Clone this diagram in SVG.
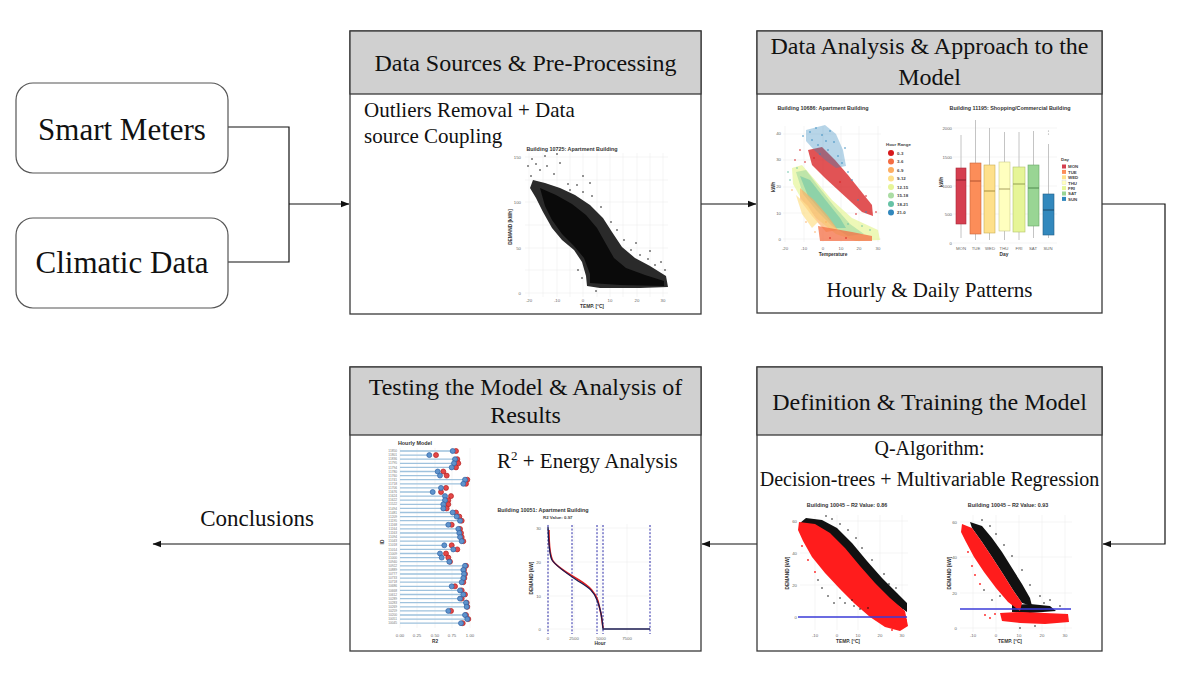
<svg xmlns="http://www.w3.org/2000/svg" width="1200" height="681" viewBox="0 0 1200 681">
<defs>
<marker id="ah" markerWidth="9" markerHeight="8" refX="8" refY="4" orient="auto" markerUnits="userSpaceOnUse"><path d="M0,0.8 L8.5,4 L0,7.2 Z" fill="#111"/></marker>
<style>
.box{fill:#fff;stroke:#3a3a3a;stroke-width:1.3}
.hdr{fill:#d0d0d0;stroke:#3a3a3a;stroke-width:1.3}
.rbox{fill:#fff;stroke:#555;stroke-width:1.2}
.t{font-family:"Liberation Serif","Times New Roman",serif;fill:#111}
.h{font-size:24px;text-anchor:middle}
.b{font-size:21px}
.conn{fill:none;stroke:#111;stroke-width:1.2}
.ax{font-family:"Liberation Sans",Arial,sans-serif;font-size:4.3px;fill:#666}
.axe{font-family:"Liberation Sans",Arial,sans-serif;font-size:4.3px;fill:#666;text-anchor:end}
.axm{font-family:"Liberation Sans",Arial,sans-serif;font-size:4.3px;fill:#666;text-anchor:middle}
.al{font-family:"Liberation Sans",Arial,sans-serif;font-size:4.8px;font-weight:bold;fill:#333;text-anchor:middle}
.ct{font-family:"Liberation Sans",Arial,sans-serif;font-size:5.4px;font-weight:bold;fill:#333;text-anchor:middle}
.lg{font-family:"Liberation Sans",Arial,sans-serif;font-size:4.4px;font-weight:bold;fill:#444}
.id{font-family:"Liberation Sans",Arial,sans-serif;font-size:3.2px;fill:#777;text-anchor:end}
.grid{stroke:#efefef;stroke-width:0.6;fill:none}
.ll{stroke:#9fc2dd;stroke-width:1.3;fill:none}
.bl{fill:#5f93cc;stroke:#2f64a6;stroke-width:0.7}
.rd{fill:#e34848;stroke:#b52020;stroke-width:0.7}
.dk{fill:#111}
.rdt{fill:#ff1c1c}
.wh{stroke:#b5b5b5;stroke-width:0.8}
</style>
</defs>
<rect width="1200" height="681" fill="#fff"/>

<g id="connectors">
<path class="conn" d="M228,127 H289 V262 H228"/>
<path class="conn" d="M289,204 H349" marker-end="url(#ah)"/>
<path class="conn" d="M701,204 H756" marker-end="url(#ah)"/>
<path class="conn" d="M1102,204 H1165 V544 H1103" marker-end="url(#ah)"/>
<path class="conn" d="M757,544 H702" marker-end="url(#ah)"/>
<path class="conn" d="M350,544 H153" marker-end="url(#ah)"/>
</g>

<g id="smart-meters">
<rect class="rbox" x="16" y="83" width="212" height="90" rx="17"/>
<text class="t" x="122" y="140" font-size="31" text-anchor="middle">Smart Meters</text>
</g>

<g id="climatic-data">
<rect class="rbox" x="16" y="218" width="212" height="90" rx="17"/>
<text class="t" x="122" y="273" font-size="31" text-anchor="middle">Climatic Data</text>
</g>

<g id="conclusions">
<text class="t" x="257" y="526" font-size="23" text-anchor="middle">Conclusions</text>
</g>

<g id="data-sources">
<rect class="box" x="350" y="31" width="351" height="283"/>
<rect class="hdr" x="350" y="31" width="351" height="63"/>
<text class="t h" x="525.5" y="71">Data Sources &amp; Pre-Processing</text>
<text class="t b" x="364" y="117">Outliers Removal + Data</text>
<text class="t b" x="364" y="143">source Coupling</text>
<g id="chart-10725">
<path class="grid" d="M529,153V297M543,153V297M557,153V297M570,153V297M583,153V297M597,153V297M610,153V297M623,153V297M637,153V297M650,153V297M663,153V297M525,157H668M525,180H668M525,202H668M525,225H668M525,248H668M525,270H668M525,293H668"/>
<text class="ct" x="572" y="151">Building 10725: Apartment Building</text>
<text class="axe" x="521" y="158.5">150</text>
<text class="axe" x="521" y="203.5">100</text>
<text class="axe" x="521" y="249.5">50</text>
<text class="axe" x="521" y="294.5">0</text>
<text class="axm" x="529" y="302">-20</text>
<text class="axm" x="557" y="302">-10</text>
<text class="axm" x="583" y="302">0</text>
<text class="axm" x="610" y="302">10</text>
<text class="axm" x="637" y="302">20</text>
<text class="axm" x="663" y="302">30</text>
<text class="al" x="592" y="308">TEMP. [°C]</text>
<text class="al" transform="translate(512,227) rotate(-90)">DEMAND [kWh]</text>
<polygon fill="#2a2a2a" points="533,180 545,183 560,188 575,195 590,205 603,218 612,232 622,247 635,258 650,266 666,276 668,287 640,288 600,288 587,286 586,276 582,262 574,250 562,240 552,228 543,212 536,198 530,188"/>
<polygon fill="#0a0a0a" points="540,188 556,195 572,204 586,215 597,228 606,244 614,258 626,268 645,275 664,281 664,286 620,285 590,283 590,274 584,258 574,246 562,234 552,220 545,206"/>
<g class="dk">
<circle cx="528" cy="166" r="0.8"/><circle cx="532" cy="159" r="0.8"/><circle cx="531" cy="176" r="0.8"/><circle cx="545" cy="156" r="0.8"/><circle cx="547" cy="166" r="0.8"/><circle cx="557" cy="154" r="0.8"/><circle cx="560" cy="163" r="0.8"/><circle cx="554" cy="174" r="0.8"/><circle cx="540" cy="170" r="0.8"/><circle cx="536" cy="164" r="0.8"/><circle cx="568" cy="184" r="0.8"/><circle cx="577" cy="185" r="0.8"/><circle cx="583" cy="192" r="0.8"/><circle cx="592" cy="196" r="0.8"/><circle cx="601" cy="207" r="0.8"/><circle cx="611" cy="222" r="0.8"/><circle cx="617" cy="230" r="0.8"/><circle cx="624" cy="240" r="0.8"/><circle cx="631" cy="250" r="0.8"/><circle cx="640" cy="255" r="0.8"/><circle cx="648" cy="259" r="0.8"/><circle cx="655" cy="265" r="0.8"/><circle cx="661" cy="262" r="0.8"/><circle cx="665" cy="270" r="0.8"/><circle cx="636" cy="243" r="0.8"/><circle cx="650" cy="251" r="0.8"/><circle cx="582" cy="278" r="0.8"/><circle cx="578" cy="270" r="0.8"/><circle cx="596" cy="291" r="0.8"/><circle cx="583" cy="176" r="0.8"/><circle cx="590" cy="183" r="0.8"/><circle cx="570" cy="190" r="0.8"/>
</g>
</g>
</g>

<g id="data-analysis">
<rect class="box" x="757" y="31" width="345" height="282"/>
<rect class="hdr" x="757" y="31" width="345" height="63"/>
<text class="t h" x="929.5" y="54">Data Analysis &amp; Approach to the</text>
<text class="t h" x="929.5" y="85">Model</text>
<text class="t b" x="929.5" y="297" text-anchor="middle">Hourly &amp; Daily Patterns</text>
<g id="chart-10686">
<path class="grid" d="M785,126V242M804,126V242M823,126V242M841,126V242M859,126V242M878,126V242M783,134H881M783,160H881M783,187H881M783,213H881M783,239H881"/>
<text class="ct" x="823" y="110">Building 10686: Apartment Building</text>
<text class="axe" x="781" y="134.5">40</text>
<text class="axe" x="781" y="160.5">30</text>
<text class="axe" x="781" y="187.5">20</text>
<text class="axe" x="781" y="214.5">10</text>
<text class="axe" x="781" y="240.5">0</text>
<text class="axm" x="785" y="250">-20</text>
<text class="axm" x="804" y="250">-10</text>
<text class="axm" x="823" y="250">0</text>
<text class="axm" x="841" y="250">10</text>
<text class="axm" x="859" y="250">20</text>
<text class="axm" x="878" y="250">30</text>
<text class="al" x="833" y="256">Temperature</text>
<text class="al" transform="translate(775,187) rotate(-90)">kWh</text>
<polygon fill="#e6f598" opacity="0.7" points="792,168 802,165 815,180 832,200 852,218 878,230 880,240 856,241 836,234 816,218 802,200 793,184"/>
<polygon fill="#abdda4" opacity="0.7" points="796,172 806,170 818,186 834,206 850,224 864,234 848,236 832,226 816,210 803,194"/>
<polygon fill="#66c2a5" opacity="0.55" points="800,176 810,180 824,198 840,218 846,228 836,228 822,212 808,196"/>
<polygon fill="#fdae61" opacity="0.65" points="800,188 814,200 828,216 838,230 826,232 812,216 800,200"/>
<polygon fill="#fee08b" opacity="0.7" points="796,195 808,206 818,222 812,228 802,214"/>
<polygon fill="#f46d43" opacity="0.75" points="818,226 835,229 852,232 872,236 872,241 820,241"/>
<polygon fill="#d7191c" opacity="0.75" points="808,150 822,147 835,160 848,175 860,190 872,205 873,216 862,212 850,201 838,190 825,178 812,165"/>
<polygon fill="#3288bd" opacity="0.35" points="806,130 825,125 836,134 843,150 846,166 836,168 825,160 814,150 806,141"/>
<g fill="#3288bd">
<circle cx="810" cy="132" r="0.8"/><circle cx="816" cy="128" r="0.8"/><circle cx="822" cy="135" r="0.8"/><circle cx="830" cy="131" r="0.8"/><circle cx="834" cy="142" r="0.8"/><circle cx="828" cy="150" r="0.8"/><circle cx="838" cy="156" r="0.8"/><circle cx="842" cy="163" r="0.8"/><circle cx="818" cy="145" r="0.8"/><circle cx="848" cy="172" r="0.8"/><circle cx="852" cy="180" r="0.8"/><circle cx="845" cy="148" r="0.8"/><circle cx="812" cy="140" r="0.8"/><circle cx="803" cy="136" r="0.8"/><circle cx="826" cy="141" r="0.8"/><circle cx="820" cy="154" r="0.8"/><circle cx="858" cy="200" r="0.8"/><circle cx="866" cy="212" r="0.8"/>
</g>
<g fill="#d7191c">
<circle cx="800" cy="150" r="0.8"/><circle cx="795" cy="160" r="0.8"/><circle cx="805" cy="162" r="0.8"/><circle cx="866" cy="196" r="0.8"/><circle cx="876" cy="212" r="0.8"/><circle cx="856" cy="214" r="0.8"/><circle cx="846" cy="238" r="0.8"/><circle cx="830" cy="238" r="0.8"/><circle cx="814" cy="158" r="0.8"/><circle cx="840" cy="182" r="0.8"/>
</g>
<g fill="#66c2a5">
<circle cx="790" cy="180" r="0.8"/><circle cx="797" cy="168" r="0.8"/><circle cx="848" cy="224" r="0.8"/><circle cx="862" cy="226" r="0.8"/><circle cx="870" cy="230" r="0.8"/><circle cx="788" cy="172" r="0.8"/>
</g>
<g fill="#fdae61">
<circle cx="792" cy="190" r="0.8"/><circle cx="806" cy="222" r="0.8"/><circle cx="815" cy="232" r="0.8"/><circle cx="826" cy="222" r="0.8"/>
</g>
<text class="lg" x="886" y="146">Hour Range</text>
<circle cx="891" cy="153" r="3" fill="#d7191c"/><text class="lg" x="897" y="154.6">0-3</text>
<circle cx="891" cy="161.5" r="3" fill="#f46d43"/><text class="lg" x="897" y="163.1">3-6</text>
<circle cx="891" cy="170" r="3" fill="#fdae61"/><text class="lg" x="897" y="171.6">6-9</text>
<circle cx="891" cy="178.5" r="3" fill="#fee08b"/><text class="lg" x="897" y="180.1">9-12</text>
<circle cx="891" cy="187" r="3" fill="#e6f598"/><text class="lg" x="897" y="188.6">12-15</text>
<circle cx="891" cy="195.5" r="3" fill="#abdda4"/><text class="lg" x="897" y="197.1">15-18</text>
<circle cx="891" cy="204" r="3" fill="#66c2a5"/><text class="lg" x="897" y="205.6">18-21</text>
<circle cx="891" cy="212.5" r="3" fill="#3288bd"/><text class="lg" x="897" y="214.1">21-0</text>
</g>
<g id="chart-11195">
<path class="grid" d="M953,128H1057M953,157H1057M953,186H1057M953,214H1057M953,243H1057"/>
<text class="ct" x="1010" y="110">Building 11195: Shopping/Commercial Building</text>
<text class="axe" x="952" y="129.5">2000</text>
<text class="axe" x="952" y="158.5">1500</text>
<text class="axe" x="952" y="187.5">1000</text>
<text class="axe" x="952" y="215.5">500</text>
<text class="axe" x="952" y="244.5">0</text>
<path class="wh" d="M961,135V238M975.5,120V240M989.5,128V240M1004.5,132V240M1019,132V240M1033.5,131V238M1048.5,144V238"/>
<rect x="956" y="168" width="10" height="56" fill="#d53e4f" stroke="#a8283a" stroke-width="0.6"/>
<path d="M956,180H966" stroke="#8a1f2d" stroke-width="1"/>
<rect x="970" y="163" width="11" height="71" fill="#fc8d59" stroke="#c9653a" stroke-width="0.6"/>
<path d="M970,181H981" stroke="#b25330" stroke-width="1"/>
<rect x="984" y="165" width="11" height="68" fill="#fee08b" stroke="#c8ad55" stroke-width="0.6"/>
<path d="M984,191H995" stroke="#a88f40" stroke-width="1"/>
<rect x="999" y="162" width="11" height="69" fill="#ffffbf" stroke="#c9c98a" stroke-width="0.6"/>
<path d="M999,189H1010" stroke="#a8a060" stroke-width="1"/>
<rect x="1013" y="167" width="12" height="65" fill="#e6f598" stroke="#b2c26a" stroke-width="0.6"/>
<path d="M1013,184H1025" stroke="#93a050" stroke-width="1"/>
<rect x="1028" y="165" width="11" height="61" fill="#99d594" stroke="#6aa866" stroke-width="0.6"/>
<path d="M1028,188H1039" stroke="#4f8a4c" stroke-width="1"/>
<rect x="1043" y="194" width="11" height="41" fill="#3288bd" stroke="#235f86" stroke-width="0.6"/>
<path d="M1043,210H1054" stroke="#1a4a6a" stroke-width="1"/>
<circle cx="1048.5" cy="134" r="0.6" fill="#999"/><circle cx="1048.5" cy="131" r="0.6" fill="#999"/>
<text class="axm" x="961" y="250">MON</text>
<text class="axm" x="976" y="250">TUE</text>
<text class="axm" x="990" y="250">WED</text>
<text class="axm" x="1004" y="250">THU</text>
<text class="axm" x="1019" y="250">FRI</text>
<text class="axm" x="1033" y="250">SAT</text>
<text class="axm" x="1048" y="250">SUN</text>
<text class="al" x="1004" y="256">Day</text>
<text class="al" transform="translate(943,182) rotate(-90)">kWh</text>
<text class="lg" x="1061" y="161">Day</text>
<rect x="1062" y="164.5" width="4" height="4" fill="#d53e4f"/><text class="lg" x="1068" y="168.3">MON</text>
<rect x="1062" y="169.9" width="4" height="4" fill="#fc8d59"/><text class="lg" x="1068" y="173.7">TUE</text>
<rect x="1062" y="175.3" width="4" height="4" fill="#fee08b"/><text class="lg" x="1068" y="179.1">WED</text>
<rect x="1062" y="180.7" width="4" height="4" fill="#ffffbf" stroke="#ccc" stroke-width="0.3"/><text class="lg" x="1068" y="184.5">THU</text>
<rect x="1062" y="186.1" width="4" height="4" fill="#e6f598"/><text class="lg" x="1068" y="189.9">FRI</text>
<rect x="1062" y="191.5" width="4" height="4" fill="#99d594"/><text class="lg" x="1068" y="195.3">SAT</text>
<rect x="1062" y="196.9" width="4" height="4" fill="#3288bd"/><text class="lg" x="1068" y="200.7">SUN</text>
</g>
</g>

<g id="definition-training">
<rect class="box" x="757" y="367" width="345" height="284"/>
<rect class="hdr" x="757" y="367" width="345" height="68"/>
<text class="t h" x="929.5" y="410">Definition &amp; Training the Model</text>
<text class="t" x="929.5" y="455" font-size="20" text-anchor="middle">Q-Algorithm:</text>
<text class="t" x="929.5" y="486" font-size="20" text-anchor="middle">Decision-trees + Multivariable Regression</text>
<g id="chart-10045-a">
<path class="grid" d="M815,515V630M837,515V630M858,515V630M880,515V630M902,515V630M800,521H908M800,553H908M800,585H908M800,617H908"/>
<text class="ct" x="847" y="507">Building 10045 –  R2 Value: 0.86</text>
<text class="axe" x="797" y="522.5">60</text>
<text class="axe" x="797" y="554.5">40</text>
<text class="axe" x="797" y="586.5">20</text>
<text class="axe" x="797" y="618.5">0</text>
<text class="axm" x="815" y="637">-10</text>
<text class="axm" x="837" y="637">0</text>
<text class="axm" x="858" y="637">10</text>
<text class="axm" x="880" y="637">20</text>
<text class="axm" x="902" y="637">30</text>
<text class="al" x="848" y="643">TEMP. [°C]</text>
<text class="al" transform="translate(789,573) rotate(-90)">DEMAND [kW]</text>
<polygon fill="#111" points="806,518 822,520 837,528 852,543 867,561 882,578 897,593 907,603 907,612 890,600 875,585 860,568 845,550 830,535 815,526 800,523"/>
<polygon fill="#ff1c1c" points="799,522 815,524 830,533 845,548 860,566 875,583 890,598 905,611 908,626 900,631 885,627 870,617 855,604 840,589 825,573 812,557 803,541 798,530"/>
<g class="dk">
<circle cx="826" cy="516" r="0.8"/><circle cx="832" cy="519" r="0.8"/><circle cx="840" cy="524" r="0.8"/><circle cx="848" cy="530" r="0.8"/><circle cx="856" cy="538" r="0.8"/><circle cx="862" cy="548" r="0.8"/><circle cx="872" cy="560" r="0.8"/><circle cx="884" cy="574" r="0.8"/><circle cx="889" cy="584" r="0.8"/><circle cx="822" cy="588" r="0.8"/><circle cx="828" cy="596" r="0.8"/><circle cx="834" cy="603" r="0.8"/><circle cx="840" cy="598" r="0.8"/><circle cx="818" cy="580" r="0.8"/><circle cx="854" cy="606" r="0.8"/><circle cx="896" cy="588" r="0.8"/><circle cx="845" cy="603" r="0.8"/><circle cx="852" cy="600" r="0.8"/><circle cx="860" cy="609" r="0.8"/><circle cx="868" cy="608" r="0.8"/><circle cx="900" cy="605" r="0.8"/><circle cx="903" cy="608" r="0.8"/>
</g>
<g class="rdt">
<circle cx="895" cy="622" r="0.9"/><circle cx="900" cy="628" r="0.9"/><circle cx="906" cy="620" r="0.9"/><circle cx="886" cy="620" r="0.9"/><circle cx="892" cy="630" r="0.9"/><circle cx="802" cy="546" r="0.9"/><circle cx="808" cy="560" r="0.9"/><circle cx="815" cy="572" r="0.9"/>
</g>
<path d="M798,617H907" stroke="#3b3bd8" stroke-width="1.3"/>
</g>
<g id="chart-10045-b">
<path class="grid" d="M973,515V632M996,515V632M1019,515V632M1042,515V632M1065,515V632M960,522H1072M960,557H1072M960,593H1072M960,628H1072"/>
<text class="ct" x="1008" y="507">Building 10045 –  R2 Value: 0.93</text>
<text class="axe" x="957" y="523.5">60</text>
<text class="axe" x="957" y="558.5">40</text>
<text class="axe" x="957" y="594.5">20</text>
<text class="axe" x="957" y="629.5">0</text>
<text class="axm" x="973" y="637">-10</text>
<text class="axm" x="996" y="637">0</text>
<text class="axm" x="1019" y="637">10</text>
<text class="axm" x="1042" y="637">20</text>
<text class="axm" x="1065" y="637">30</text>
<text class="al" x="1010" y="643">TEMP. [°C]</text>
<text class="al" transform="translate(951,573) rotate(-90)">DEMAND [kW]</text>
<polygon fill="#111" points="970,522 982,526 992,538 1002,552 1012,568 1022,584 1030,598 1032,606 1022,603 1013,590 1003,574 992,557 982,542 972,528"/>
<polygon fill="#111" points="1012,605 1030,604 1050,606 1056,611 1030,613 1012,612"/>
<polygon fill="#ff1c1c" points="962,524 972,528 982,542 992,557 1003,574 1013,590 1022,603 1020,611 1008,602 996,588 984,572 974,557 966,542 961,532"/>
<polygon fill="#ff1c1c" points="1000,613 1020,612 1045,613 1068,614 1069,622 1045,624 1020,623 1002,621"/>
<g class="dk">
<circle cx="982" cy="520" r="0.8"/><circle cx="990" cy="526" r="0.8"/><circle cx="996" cy="534" r="0.8"/><circle cx="1004" cy="545" r="0.8"/><circle cx="1012" cy="556" r="0.8"/><circle cx="1022" cy="570" r="0.8"/><circle cx="1030" cy="585" r="0.8"/><circle cx="1040" cy="596" r="0.8"/><circle cx="1050" cy="600" r="0.8"/><circle cx="984" cy="590" r="0.8"/><circle cx="992" cy="600" r="0.8"/><circle cx="1000" cy="596" r="0.8"/><circle cx="1020" cy="628" r="0.8"/><circle cx="1035" cy="626" r="0.8"/><circle cx="1060" cy="606" r="0.8"/><circle cx="1044" cy="603" r="0.8"/>
</g>
<g class="rdt">
<circle cx="975" cy="575" r="0.9"/><circle cx="980" cy="584" r="0.9"/><circle cx="985" cy="615" r="0.9"/><circle cx="990" cy="618" r="0.9"/><circle cx="995" cy="614" r="0.9"/><circle cx="972" cy="566" r="0.9"/><circle cx="968" cy="552" r="0.9"/>
</g>
<path d="M960,609H1071" stroke="#3b3bd8" stroke-width="1.3"/>
</g>
</g>

<g id="testing-model">
<rect class="box" x="350" y="367" width="351" height="284"/>
<rect class="hdr" x="350" y="367" width="351" height="68"/>
<text class="t h" x="525.5" y="395">Testing the Model &amp; Analysis of</text>
<text class="t h" x="525.5" y="423">Results</text>
<text class="t b" x="497" y="468">R<tspan font-size="13" dy="-8">2</tspan><tspan dy="8"> + Energy Analysis</tspan></text>
<g id="chart-hourly-model">
<path class="grid" d="M400,448V628M417,448V628M435,448V628M452,448V628M470,448V628"/>
<text class="ct" x="415" y="445">Hourly Model</text>
<path class="ll" d="M400,451H452.7M400,455.1H429.3M400,459.2H455M400,463.3H454M400,467.4H451.7M400,471.5H437.7M400,475.6H440M400,479.7H465M400,483.8H463.3M400,487.9H441M400,492H432.7M400,496.1H445M400,500.2H445M400,504.3H443.3M400,508.4H443.3M400,512.5H452.7M400,516.6H456.7M400,520.7H460M400,524.8H448.3M400,528.9H458.3M400,533H459.3M400,537.1H460M400,541.2H461.7M400,545.3H444.3M400,549.4H453.3M400,553.5H440M400,557.6H441.7M400,561.7H449.3M400,565.8H465M400,569.9H463.3M400,574H464M400,578.1H463.3M400,582.2H461.7M400,586.3H451.7M400,590.4H460M400,594.5H463.3M400,598.6H460M400,602.7H466M400,606.8H466.7M400,610.9H448.3M400,615H465M400,619.1H467.3M400,623.2H461"/>
<g class="rd">
<circle cx="456" cy="451" r="2.5"/><circle cx="436" cy="455.1" r="2.5"/><circle cx="457.3" cy="459.2" r="2.5"/><circle cx="458.3" cy="463.3" r="2.5"/><circle cx="456" cy="467.4" r="2.5"/><circle cx="443.3" cy="471.5" r="2.5"/><circle cx="446.7" cy="475.6" r="2.5"/><circle cx="467.3" cy="479.7" r="2.5"/><circle cx="466" cy="483.8" r="2.5"/><circle cx="446" cy="487.9" r="2.5"/><circle cx="441" cy="492" r="2.5"/><circle cx="451" cy="496.1" r="2.5"/><circle cx="448.3" cy="500.2" r="2.5"/><circle cx="448.3" cy="504.3" r="2.5"/><circle cx="446.7" cy="508.4" r="2.5"/><circle cx="456" cy="512.5" r="2.5"/><circle cx="459.3" cy="516.6" r="2.5"/><circle cx="461.7" cy="520.7" r="2.5"/><circle cx="451.7" cy="524.8" r="2.5"/><circle cx="460" cy="528.9" r="2.5"/><circle cx="461" cy="533" r="2.5"/><circle cx="461.7" cy="537.1" r="2.5"/><circle cx="463.3" cy="541.2" r="2.5"/><circle cx="451.7" cy="545.3" r="2.5"/><circle cx="457.3" cy="549.4" r="2.5"/><circle cx="446" cy="553.5" r="2.5"/><circle cx="448.3" cy="557.6" r="2.5"/><circle cx="450" cy="561.7" r="2.5"/><circle cx="466" cy="565.8" r="2.5"/><circle cx="464" cy="569.9" r="2.5"/><circle cx="465" cy="574" r="2.5"/><circle cx="464.3" cy="578.1" r="2.5"/><circle cx="463.3" cy="582.2" r="2.5"/><circle cx="455" cy="586.3" r="2.5"/><circle cx="461.7" cy="590.4" r="2.5"/><circle cx="465" cy="594.5" r="2.5"/><circle cx="461.7" cy="598.6" r="2.5"/><circle cx="466.7" cy="602.7" r="2.5"/><circle cx="467.3" cy="606.8" r="2.5"/><circle cx="451" cy="610.9" r="2.5"/><circle cx="466" cy="615" r="2.5"/><circle cx="468.3" cy="619.1" r="2.5"/><circle cx="462.7" cy="623.2" r="2.5"/>
</g>
<g class="bl">
<circle cx="452.7" cy="451" r="2.5"/><circle cx="429.3" cy="455.1" r="2.5"/><circle cx="455" cy="459.2" r="2.5"/><circle cx="454" cy="463.3" r="2.5"/><circle cx="451.7" cy="467.4" r="2.5"/><circle cx="437.7" cy="471.5" r="2.5"/><circle cx="440" cy="475.6" r="2.5"/><circle cx="465" cy="479.7" r="2.5"/><circle cx="463.3" cy="483.8" r="2.5"/><circle cx="441" cy="487.9" r="2.5"/><circle cx="432.7" cy="492" r="2.5"/><circle cx="445" cy="496.1" r="2.5"/><circle cx="445" cy="500.2" r="2.5"/><circle cx="443.3" cy="504.3" r="2.5"/><circle cx="443.3" cy="508.4" r="2.5"/><circle cx="452.7" cy="512.5" r="2.5"/><circle cx="456.7" cy="516.6" r="2.5"/><circle cx="460" cy="520.7" r="2.5"/><circle cx="448.3" cy="524.8" r="2.5"/><circle cx="458.3" cy="528.9" r="2.5"/><circle cx="459.3" cy="533" r="2.5"/><circle cx="460" cy="537.1" r="2.5"/><circle cx="461.7" cy="541.2" r="2.5"/><circle cx="444.3" cy="545.3" r="2.5"/><circle cx="453.3" cy="549.4" r="2.5"/><circle cx="440" cy="553.5" r="2.5"/><circle cx="441.7" cy="557.6" r="2.5"/><circle cx="449.3" cy="561.7" r="2.5"/><circle cx="465" cy="565.8" r="2.5"/><circle cx="463.3" cy="569.9" r="2.5"/><circle cx="464" cy="574" r="2.5"/><circle cx="463.3" cy="578.1" r="2.5"/><circle cx="461.7" cy="582.2" r="2.5"/><circle cx="451.7" cy="586.3" r="2.5"/><circle cx="460" cy="590.4" r="2.5"/><circle cx="463.3" cy="594.5" r="2.5"/><circle cx="460" cy="598.6" r="2.5"/><circle cx="466" cy="602.7" r="2.5"/><circle cx="466.7" cy="606.8" r="2.5"/><circle cx="448.3" cy="610.9" r="2.5"/><circle cx="465" cy="615" r="2.5"/><circle cx="467.3" cy="619.1" r="2.5"/><circle cx="461" cy="623.2" r="2.5"/>
</g>
<text class="id" x="397" y="452.1">11850</text><text class="id" x="397" y="456.2">11801</text><text class="id" x="397" y="460.3">11836</text><text class="id" x="397" y="464.4">11795</text><text class="id" x="397" y="468.5">11794</text><text class="id" x="397" y="472.6">11780</text><text class="id" x="397" y="476.7">11760</text><text class="id" x="397" y="480.8">11741</text><text class="id" x="397" y="484.9">11718</text><text class="id" x="397" y="489">11706</text><text class="id" x="397" y="493.1">11676</text><text class="id" x="397" y="497.2">11624</text><text class="id" x="397" y="501.3">11622</text><text class="id" x="397" y="505.4">11522</text><text class="id" x="397" y="509.5">11494</text><text class="id" x="397" y="513.6">11481</text><text class="id" x="397" y="517.7">11209</text><text class="id" x="397" y="521.8">11195</text><text class="id" x="397" y="525.9">11168</text><text class="id" x="397" y="530">11164</text><text class="id" x="397" y="534.1">11163</text><text class="id" x="397" y="538.2">11094</text><text class="id" x="397" y="542.3">11043</text><text class="id" x="397" y="546.4">11018</text><text class="id" x="397" y="550.5">11014</text><text class="id" x="397" y="554.6">11009</text><text class="id" x="397" y="558.7">11000</text><text class="id" x="397" y="562.8">10940</text><text class="id" x="397" y="566.9">10922</text><text class="id" x="397" y="571">10889</text><text class="id" x="397" y="575.1">10777</text><text class="id" x="397" y="579.2">10733</text><text class="id" x="397" y="583.3">10718</text><text class="id" x="397" y="587.4">10686</text><text class="id" x="397" y="591.5">10668</text><text class="id" x="397" y="595.6">10612</text><text class="id" x="397" y="599.7">10289</text><text class="id" x="397" y="603.8">10283</text><text class="id" x="397" y="607.9">10269</text><text class="id" x="397" y="612">10259</text><text class="id" x="397" y="616.1">10200</text><text class="id" x="397" y="620.2">10051</text><text class="id" x="397" y="624.3">10045</text>
<text class="axm" x="400" y="637">0.00</text>
<text class="axm" x="417" y="637">0.25</text>
<text class="axm" x="435" y="637">0.50</text>
<text class="axm" x="452" y="637">0.75</text>
<text class="axm" x="470" y="637">1.00</text>
<text class="al" x="435" y="643">R2</text>
<text class="al" transform="translate(384,542) rotate(-90)">ID</text>
</g>
<g id="chart-10051">
<path class="grid" d="M548,524V634M574,524V634M601,524V634M627,524V634M544,528H652M544,562H652M544,596H652M544,629H652"/>
<text class="ct" x="543" y="512" text-anchor="start">Building 10051: Apartment Building</text>
<text class="lg" x="543" y="519" font-size="4.3">R2 Value: 0.97</text>
<text class="axe" x="541" y="529.5">30</text>
<text class="axe" x="541" y="563.5">20</text>
<text class="axe" x="541" y="597.5">10</text>
<text class="axe" x="541" y="630.5">0</text>
<text class="axm" x="548" y="640">0</text>
<text class="axm" x="574" y="640">2500</text>
<text class="axm" x="601" y="640">5000</text>
<text class="axm" x="627" y="640">7500</text>
<text class="al" x="600" y="645">Hour</text>
<text class="al" transform="translate(533,578) rotate(-90)">DEMAND [kW]</text>
<path d="M548,525V634M572,525V634M597,525V634M603,525V634M650,525V634" stroke="#2b2ba8" stroke-width="1" stroke-dasharray="2,1.6" fill="none"/>
<path d="M549,530 C549,546 550,556 553,561 C557,567 567,573 579,580 C590,587 595,592 598,601 C600,608 602,616 603,628" stroke="#e02020" stroke-width="1.6" fill="none"/>
<path d="M548,527 C549,545 549,555 552,560 C556,566 566,573 578,581 C590,588 594,592 597,600 C600,607 602,615 603,629 L650,629" stroke="#1a1a50" stroke-width="1.3" fill="none"/>
</g>
</g>
</svg>
